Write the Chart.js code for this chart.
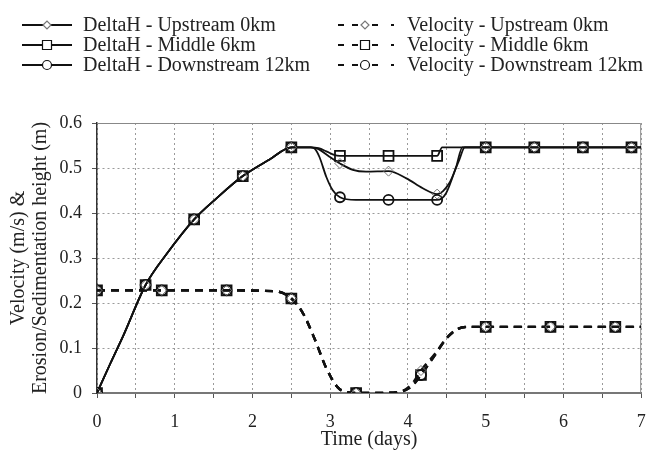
<!DOCTYPE html>
<html lang="en">
<head>
  <meta charset="utf-8">
  <title>DeltaH and Velocity vs Time</title>
  <script src="https://cdn.jsdelivr.net/npm/chart.js@4.4.1/dist/chart.umd.min.js"></script>
  <style>
    body { margin: 0; background: #fff; }
    #chart { display: block; }
  </style>
</head>
<body>
  <canvas id="chart" width="650" height="452"></canvas>

  <script>
    // times (days) where markers sit on the curves
    const hMarks = [0, 0.625, 1.25, 1.875, 2.5, 3.125, 3.75, 4.375, 5, 5.625, 6.25, 6.875];
    const vMarks = [0, 0.833, 1.667, 2.5, 3.333, 4.167, 5, 5.833, 6.667];

    // DeltaH rising limb, same for every station (m)
    const riseT = [0, 0.17, 0.34, 0.625, 0.9, 1.25, 1.54, 1.875, 2.22, 2.5, 2.75];
    const riseH = [0, 0.065, 0.128, 0.24, 0.31, 0.386, 0.433, 0.482, 0.519, 0.546, 0.546];

    // DeltaH after the peak, per station
    const upT   = [2.85, 2.99, 3.125, 3.29, 3.46, 3.75, 3.98, 4.19, 4.375, 4.53, 4.66, 4.73, 5, 5.625, 6.25, 6.875, 7];
    const upH   = [0.542, 0.525, 0.51, 0.496, 0.492, 0.493, 0.477, 0.455, 0.442, 0.466, 0.518, 0.546, 0.546, 0.546, 0.546, 0.546, 0.546];
    const midT  = [2.85, 2.95, 3.05, 3.125, 3.75, 4.375, 4.44, 5, 5.625, 6.25, 6.875, 7];
    const midH  = [0.544, 0.537, 0.529, 0.527, 0.527, 0.527, 0.546, 0.546, 0.546, 0.546, 0.546, 0.546];
    const downT = [2.8, 2.86, 2.95, 3.03, 3.125, 3.33, 3.75, 4.375, 4.49, 4.62, 4.7, 5, 5.625, 6.25, 6.875, 7];
    const downH = [0.543, 0.525, 0.48, 0.451, 0.435, 0.429, 0.429, 0.429, 0.444, 0.503, 0.546, 0.546, 0.546, 0.546, 0.546, 0.546];

    // velocity (m/s)
    const velT    = [0, 0.833, 1.667, 2.3, 2.5, 2.65, 2.8, 2.95, 3.1, 3.25, 3.333, 3.6, 3.9, 4.05, 4.167, 4.35, 4.5, 4.65, 4.8, 5, 5.833, 6.667, 7];
    const velUp   = [0.228, 0.228, 0.228, 0.226, 0.21, 0.177, 0.12, 0.055, 0.012, 0.001, 0, 0, 0.003, 0.02, 0.05, 0.088, 0.123, 0.143, 0.147, 0.147, 0.147, 0.147, 0.147];
    const velMid  = [0.228, 0.228, 0.228, 0.226, 0.21, 0.177, 0.12, 0.055, 0.012, 0.001, 0, 0, 0.003, 0.015, 0.04, 0.085, 0.122, 0.143, 0.147, 0.147, 0.147, 0.147, 0.147];
    const velDown = [0.228, 0.228, 0.228, 0.226, 0.21, 0.177, 0.12, 0.055, 0.012, 0.001, 0, 0, 0.003, 0.015, 0.04, 0.085, 0.122, 0.143, 0.147, 0.147, 0.147, 0.147, 0.147];

    const serif = '"Liberation Serif", "Times New Roman", serif';

    function pts(t, v) {
      return t.map((x, i) => ({ x: x, y: v[i] }));
    }

    function series(label, t, v, marks, shape, dashed, col, row) {
      const isDiamond = shape === 'rectRot';
      const r = shape === 'rect' ? 7 : 5;
      return {
        label: label,
        data: pts(t, v),
        col: col,
        row: row,
        borderColor: '#111',
        borderWidth: dashed ? 2.4 : 1.8,
        borderDash: dashed ? [8, 6] : [],
        cubicInterpolationMode: 'monotone',
        pointStyle: shape,
        pointRadius: ctx => marks.includes(ctx.raw.x) ? r : 0,
        pointBorderColor: isDiamond ? '#777' : '#111',
        pointBorderWidth: isDiamond ? 1 : 1.8,
        pointBackgroundColor: 'transparent'
      };
    }

    const datasets = [
      series('DeltaH - Upstream 0km', riseT.concat(upT), riseH.concat(upH), hMarks, 'rectRot', false, 0, 0),
      series('DeltaH - Middle 6km', riseT.concat(midT), riseH.concat(midH), hMarks, 'rect', false, 0, 1),
      series('DeltaH - Downstream 12km', riseT.concat(downT), riseH.concat(downH), hMarks, 'circle', false, 0, 2),
      series('Velocity - Upstream 0km', velT, velUp, vMarks, 'rectRot', true, 1, 0),
      series('Velocity - Middle 6km', velT, velMid, vMarks, 'rect', true, 1, 1),
      series('Velocity - Downstream 12km', velT, velDown, vMarks, 'circle', true, 1, 2)
    ];

    function drawMarker(ctx, shape, x, y) {
      ctx.beginPath();
      if (shape === 'rect') {
        ctx.rect(x - 4.5, y - 4.5, 9, 9);
      } else if (shape === 'circle') {
        ctx.arc(x, y, 4.5, 0, Math.PI * 2);
      } else {
        ctx.moveTo(x - 4, y);
        ctx.lineTo(x, y - 4);
        ctx.lineTo(x + 4, y);
        ctx.lineTo(x, y + 4);
        ctx.closePath();
      }
      ctx.fill();
      ctx.stroke();
    }

    // two-column legend above the plot
    const legendRows = [25, 45, 65];
    const topLegend = {
      id: 'topLegend',
      afterDraw(chart) {
        const ctx = chart.ctx;
        ctx.save();
        chart.data.datasets.forEach(ds => {
          const y = legendRows[ds.row];
          ctx.strokeStyle = '#111';
          ctx.lineWidth = 1.8;
          ctx.setLineDash([]);
          let mx, tx;
          if (ds.col === 0) {
            ctx.beginPath();
            ctx.moveTo(22, y);
            ctx.lineTo(72, y);
            ctx.stroke();
            mx = 47;
            tx = 83;
          } else {
            ctx.beginPath();
            [[338, 344], [352, 358], [372, 378], [391, 394]].forEach(s => {
              ctx.moveTo(s[0], y);
              ctx.lineTo(s[1], y);
            });
            ctx.stroke();
            mx = 365;
            tx = 407;
          }
          ctx.fillStyle = '#fff';
          ctx.strokeStyle = ds.pointStyle === 'rectRot' ? '#777' : '#111';
          ctx.lineWidth = 1.2;
          drawMarker(ctx, ds.pointStyle, mx, y);
          ctx.fillStyle = '#222';
          ctx.font = '20px ' + serif;
          ctx.textBaseline = 'middle';
          ctx.fillText(ds.label, tx, y + 1);
        });
        ctx.restore();
      }
    };

    // light box on the top and right of the plot
    const plotFrame = {
      id: 'plotFrame',
      beforeDatasetsDraw(chart) {
        const a = chart.chartArea;
        const ctx = chart.ctx;
        ctx.save();
        ctx.strokeStyle = '#888';
        ctx.lineWidth = 1;
        ctx.beginPath();
        ctx.moveTo(a.left, a.top + 0.5);
        ctx.lineTo(a.right - 0.5, a.top + 0.5);
        ctx.lineTo(a.right - 0.5, a.bottom);
        ctx.stroke();
        ctx.restore();
      }
    };

    new Chart(document.getElementById('chart'), {
      type: 'line',
      data: { datasets: datasets },
      options: {
        responsive: false,
        animation: false,
        layout: { padding: { top: 123, right: 8, bottom: 0, left: 0 } },
        plugins: { legend: { display: false }, tooltip: { enabled: false } },
        scales: {
          x: {
            type: 'linear',
            min: 0,
            max: 7,
            afterFit: s => {
              s.height = 59;
              s.paddingLeft = 0;
              s.paddingRight = 0;
            },
            ticks: {
              stepSize: 0.5,
              padding: 13,
              color: '#222',
              font: { family: serif, size: 18 },
              maxRotation: 0,
              callback: v => Number.isInteger(v) ? String(v) : ''
            },
            grid: { color: '#9a9a9a', lineWidth: 1, tickLength: 5, tickColor: '#555' },
            border: { color: '#777', width: 2, dash: [2, 3] },
            title: {
              display: true,
              text: 'Time (days)',
              color: '#222',
              font: { family: serif, size: 20, lineHeight: 1.2 },
              padding: { top: 0, bottom: 0 }
            }
          },
          y: {
            min: 0,
            max: 0.6,
            afterFit: s => { s.width = 97; },
            ticks: {
              stepSize: 0.05,
              padding: 10,
              color: '#222',
              font: { family: serif, size: 18 },
              callback: v => Math.round(v * 100) % 10 === 0 ? String(Math.round(v * 10) / 10) : ''
            },
            grid: {
              color: c => Math.round(c.tick.value * 100) % 10 === 0 ? '#9a9a9a' : 'transparent',
              lineWidth: 1,
              tickLength: 5,
              tickColor: '#555'
            },
            border: { color: '#333', width: 1.5, dash: [2, 3] },
            title: {
              display: true,
              text: ['Velocity (m/s) &', 'Erosion/Sedimentation height (m)'],
              color: '#222',
              font: { family: serif, size: 20, lineHeight: 1.1 },
              padding: { top: 8, bottom: 0 }
            }
          }
        }
      },
      plugins: [topLegend, plotFrame]
    });
  </script>
</body>
</html>
